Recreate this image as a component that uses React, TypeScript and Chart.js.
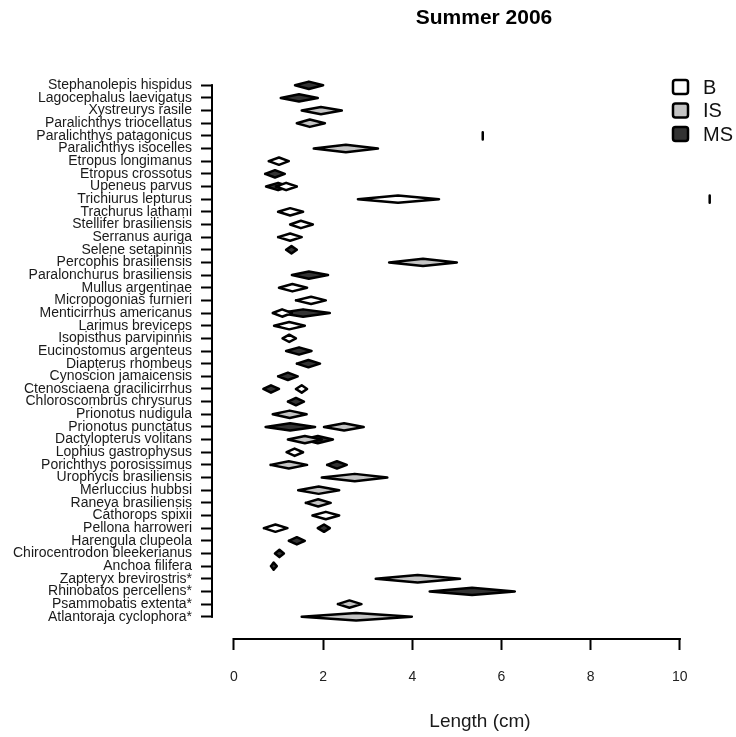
import { useEffect, useRef } from 'react';
import { Chart, registerables } from 'chart.js';

Chart.register(...registerables);

const FONT = '"Liberation Sans", Arial, Helvetica, sans-serif';

const chartTitle = 'Summer 2006';
const xAxisTitle = 'Length (cm)';

const species = [
  'Stephanolepis hispidus',
  'Lagocephalus laevigatus',
  'Xystreurys rasile',
  'Paralichthys triocellatus',
  'Paralichthys patagonicus',
  'Paralichthys isocelles',
  'Etropus longimanus',
  'Etropus crossotus',
  'Upeneus parvus',
  'Trichiurus lepturus',
  'Trachurus lathami',
  'Stellifer brasiliensis',
  'Serranus auriga',
  'Selene setapinnis',
  'Percophis brasiliensis',
  'Paralonchurus brasiliensis',
  'Mullus argentinae',
  'Micropogonias furnieri',
  'Menticirrhus americanus',
  'Larimus breviceps',
  'Isopisthus parvipinnis',
  'Eucinostomus argenteus',
  'Diapterus rhombeus',
  'Cynoscion jamaicensis',
  'Ctenosciaena gracilicirrhus',
  'Chloroscombrus chrysurus',
  'Prionotus nudigula',
  'Prionotus punctatus',
  'Dactylopterus volitans',
  'Lophius gastrophysus',
  'Porichthys porosissimus',
  'Urophycis brasiliensis',
  'Merluccius hubbsi',
  'Raneya brasiliensis',
  'Cathorops spixii',
  'Pellona harroweri',
  'Harengula clupeola',
  'Chirocentrodon bleekerianus',
  'Anchoa filifera',
  'Zapteryx brevirostris*',
  'Rhinobatos percellens*',
  'Psammobatis extenta*',
  'Atlantoraja cyclophora*',
];

const xTickValues = [0, 2, 4, 6, 8, 10];

// Group B (row number = position in species list, 1-based)
const B_rows = [7, 9, 10, 11, 12, 13, 17, 18, 19, 20, 21, 25, 30, 35, 36];
const B_min = [0.78, 0.94, 2.78, 0.99, 1.26, 0.99, 1.01, 1.39, 0.87, 0.9, 1.09, 1.39, 1.18, 1.76, 0.67];
const B_mid = [1.01, 1.17, 3.68, 1.26, 1.5, 1.26, 1.31, 1.73, 1.08, 1.24, 1.24, 1.52, 1.36, 2.06, 0.93];
const B_max = [1.23, 1.41, 4.6, 1.55, 1.77, 1.52, 1.64, 2.06, 1.3, 1.59, 1.39, 1.64, 1.55, 2.36, 1.2];

// Group IS
const IS_rows = [3, 4, 5, 6, 15, 27, 28, 29, 31, 32, 33, 34, 40, 42, 43];
const IS_min = [1.52, 1.41, 5.58, 1.79, 3.48, 0.87, 2.02, 1.21, 0.82, 1.97, 1.44, 1.61, 3.18, 2.33, 1.52];
const IS_mid = [1.95, 1.7, 5.58, 2.51, 4.24, 1.25, 2.47, 1.59, 1.23, 2.71, 1.9, 1.89, 4.12, 2.59, 2.74];
const IS_max = [2.42, 2.04, 5.58, 3.23, 5.0, 1.63, 2.91, 1.97, 1.64, 3.44, 2.36, 2.17, 5.07, 2.86, 3.99];

// Group MS
const MS_rows = [1, 2, 8, 9, 10, 14, 16, 19, 22, 23, 24, 25, 26, 28, 29, 31, 36, 37, 38, 39, 41];
const MS_min = [1.37, 1.05, 0.7, 0.72, 10.67, 1.17, 1.3, 1.03, 1.17, 1.41, 0.99, 0.66, 1.21, 0.71, 1.55, 2.09, 1.88, 1.23, 0.92, 0.83, 4.39];
const MS_mid = [1.68, 1.46, 0.92, 0.99, 10.67, 1.29, 1.68, 1.55, 1.46, 1.67, 1.21, 0.83, 1.39, 1.26, 1.88, 2.31, 2.02, 1.41, 1.02, 0.89, 5.34];
const MS_max = [2.0, 1.88, 1.14, 1.26, 10.67, 1.41, 2.11, 2.15, 1.74, 1.93, 1.43, 1.01, 1.57, 1.82, 2.22, 2.53, 2.15, 1.59, 1.12, 0.96, 6.3];

const groups = ['B', 'IS', 'MS'];
const groupColors = ['#ffffff', '#c4c4c4', '#333333'];

const HALF_H = 0.29; // diamond half-height in row units

function diamondSets(rows: number[], mins: number[], mids: number[], maxs: number[], color: string, label: string) {
  return rows.map((r, i) => ({
    label,
    data: [
      { x: mins[i], y: r },
      { x: mids[i], y: r - HALF_H },
      { x: maxs[i], y: r },
      { x: mids[i], y: r + HALF_H },
      { x: mins[i], y: r },
    ],
    showLine: true,
    fill: 'shape',
    backgroundColor: color,
    borderColor: '#000000',
    borderWidth: 2.5,
    borderJoinStyle: 'round',
    borderCapStyle: 'round',
    pointRadius: 0,
    pointHoverRadius: 0,
    pointHitRadius: 0,
    tension: 0,
  }));
}

const decorPlugin = {
  id: 'decor',
  afterDraw(chart: any) {
    const { ctx, chartArea, scales } = chart;
    const x = scales.x;
    const y = scales.y;
    ctx.save();
    ctx.strokeStyle = '#000';
    ctx.lineWidth = 2;
    ctx.lineCap = 'square';
    ctx.beginPath();
    const ax = Math.round(chartArea.left) - 1;
    ctx.moveTo(ax, y.getPixelForValue(1));
    ctx.lineTo(ax, y.getPixelForValue(species.length));
    const by = Math.round(chartArea.bottom) + 1;
    ctx.moveTo(x.getPixelForValue(xTickValues[0]), by);
    ctx.lineTo(x.getPixelForValue(xTickValues[xTickValues.length - 1]), by);
    ctx.stroke();

    ctx.fillStyle = '#000';
    ctx.textAlign = 'center';
    ctx.textBaseline = 'middle';
    ctx.font = `bold 21px ${FONT}`;
    ctx.fillText(chartTitle, 484, 18);

    ctx.fillStyle = '#1a1a1a';
    ctx.font = `19px ${FONT}`;
    ctx.fillText(xAxisTitle, 480, 722);

    groups.forEach((g, i) => {
      const cy = 87 + i * 23.5;
      ctx.beginPath();
      ctx.roundRect(673, cy - 7, 15, 14, 2.5);
      ctx.fillStyle = groupColors[i];
      ctx.fill();
      ctx.lineWidth = 2.5;
      ctx.strokeStyle = '#000';
      ctx.stroke();
      ctx.fillStyle = '#111';
      ctx.textAlign = 'left';
      ctx.font = `20px ${FONT}`;
      ctx.fillText(g, 703, cy + 1);
    });
    ctx.restore();
  },
};

export default function App() {
  const ref = useRef<HTMLCanvasElement>(null);
  useEffect(() => {
    if (!ref.current) return;
    const datasets = [
      ...diamondSets(B_rows, B_min, B_mid, B_max, groupColors[0], 'B'),
      ...diamondSets(IS_rows, IS_min, IS_mid, IS_max, groupColors[1], 'IS'),
      ...diamondSets(MS_rows, MS_min, MS_mid, MS_max, groupColors[2], 'MS'),
    ];
    const chart = new Chart(ref.current, {
      type: 'scatter',
      data: { datasets: datasets as any },
      options: {
        responsive: false,
        animation: false,
        events: [],
        layout: { padding: { top: 64, right: 0, left: 0, bottom: 0 } },
        plugins: {
          legend: { display: false },
          title: { display: false },
          tooltip: { enabled: false },
        },
        scales: {
          x: {
            type: 'linear',
            min: -0.47,
            max: 11.26,
            afterBuildTicks: (s: any) => {
              s.ticks = xTickValues.map((v) => ({ value: v }));
            },
            afterFit: (s: any) => {
              s.height = 99;
            },
            ticks: {
              autoSkip: false,
              maxRotation: 0,
              padding: 19,
              color: '#222',
              font: { size: 14, family: FONT },
              callback: (v: any) => String(v),
            },
            grid: {
              display: true,
              drawOnChartArea: false,
              drawTicks: true,
              tickLength: 12,
              tickWidth: 2,
              tickColor: '#000',
            },
            border: { display: false },
          },
          y: {
            type: 'linear',
            reverse: true,
            min: -0.68,
            max: species.length + 1.68,
            afterBuildTicks: (s: any) => {
              s.ticks = species.map((_, i) => ({ value: i + 1 }));
            },
            afterFit: (s: any) => {
              s.width = 213;
            },
            ticks: {
              autoSkip: false,
              padding: 9,
              color: '#1a1a1a',
              font: { size: 14, family: FONT, lineHeight: 1 },
              callback: (v: any) => species[Math.round(v) - 1] ?? '',
            },
            grid: {
              display: true,
              drawOnChartArea: false,
              drawTicks: true,
              tickLength: 12,
              tickWidth: 2,
              tickColor: '#000',
            },
            border: { display: false },
          },
        },
      } as any,
      plugins: [decorPlugin],
    });
    return () => chart.destroy();
  }, []);
  return (
    <div style={{ position: 'absolute', left: 0, top: 0, width: 736, height: 737, background: '#fff' }}>
      <canvas ref={ref} width={736} height={737} style={{ display: 'block' }} />
    </div>
  );
}
